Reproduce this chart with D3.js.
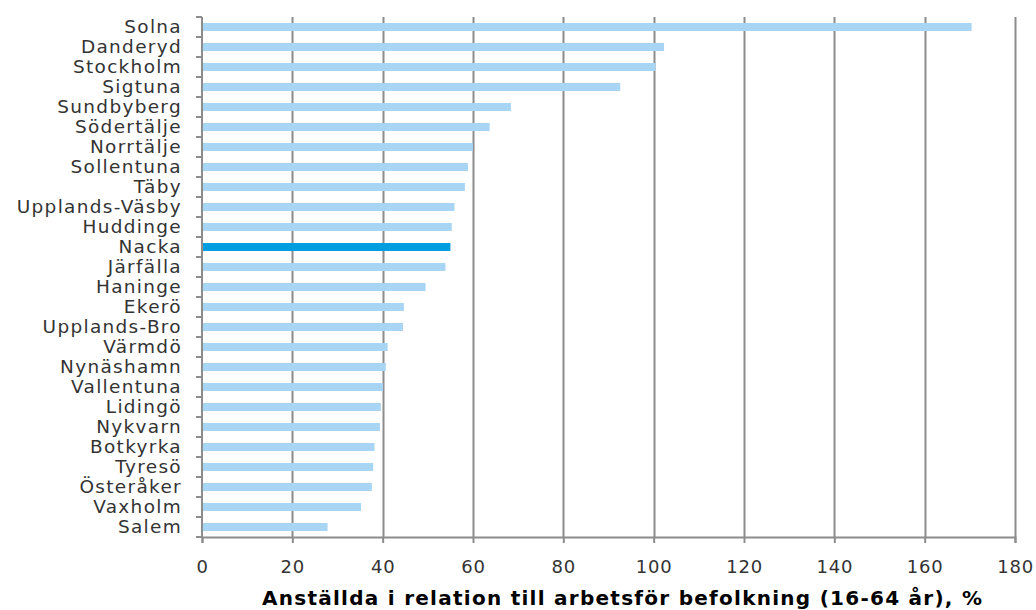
<!DOCTYPE html>
<html><head><meta charset="utf-8">
<script src="https://cdn.jsdelivr.net/npm/d3@7"></script>
<style>body{margin:0;background:#fff}svg{display:block}</style>
</head><body>
<script>
const categories = ["Solna","Danderyd","Stockholm","Sigtuna","Sundbyberg","Södertälje","Norrtälje","Sollentuna","Täby","Upplands-Väsby","Huddinge","Nacka","Järfälla","Haninge","Ekerö","Upplands-Bro","Värmdö","Nynäshamn","Vallentuna","Lidingö","Nykvarn","Botkyrka","Tyresö","Österåker","Vaxholm","Salem"];
const values = [170.4,102.3,100.4,92.6,68.4,63.7,60.0,58.9,58.2,55.9,55.3,55.0,53.9,49.5,44.7,44.5,41.1,40.7,40.1,39.6,39.4,38.2,37.9,37.6,35.2,27.8];
const highlight = "Nacka";
const xTicks = [0,20,40,60,80,100,120,140,160,180];
const xTitle = "Anställda i relation till arbetsför befolkning (16-64 år), %";

const W=1036,H=610;
const m={left:202,right:21,top:17,bottom:73};
const svg=d3.select("body").append("svg").attr("width",W).attr("height",H);
const x=d3.scaleLinear().domain([0,180]).range([m.left,W-m.right]);
const yOuter=d3.scaleBand().domain(categories).range([m.top,H-m.bottom]);
const grid="#8c8c8c";
const lightFont="'DejaVu Sans', sans-serif";

// gridlines
svg.append("g").selectAll("line").data(xTicks.slice(1)).join("line")
 .attr("x1",d=>Math.round(x(d))+0.5).attr("x2",d=>Math.round(x(d))+0.5)
 .attr("y1",m.top).attr("y2",H-m.bottom).attr("stroke",grid).attr("stroke-width",2);

// bars
svg.append("g").selectAll("rect").data(categories).join("rect")
 .attr("x",x(0)).attr("y",(d)=>yOuter(d)+6)
 .attr("width",(d,i)=>x(values[i])-x(0)).attr("height",8)
 .attr("fill",d=>d===highlight?"#009ee0":"#a9d5f4");

// x axis
const xa=svg.append("g").attr("transform",`translate(0,${H-m.bottom})`)
 .call(d3.axisBottom(x).tickValues(xTicks).tickSize(6).tickPadding(17).tickFormat(d3.format("d")));
xa.select(".domain").attr("stroke",grid).attr("stroke-width",2);
xa.selectAll(".tick line").attr("stroke",grid).attr("stroke-width",2);
xa.selectAll("text").attr("font-family",lightFont).attr("font-size",18).attr("fill","#333").attr("letter-spacing",0.8);

// y axis
const ya=svg.append("g").attr("transform",`translate(${m.left},0)`);
ya.append("line").attr("x1",0).attr("x2",0).attr("y1",m.top).attr("y2",H-m.bottom).attr("stroke",grid).attr("stroke-width",2);
const bounds=categories.map(c=>yOuter(c)).concat([H-m.bottom]);
ya.selectAll("line.t").data(bounds).join("line").attr("class","t")
 .attr("x1",-6).attr("x2",0).attr("y1",d=>d).attr("y2",d=>d).attr("stroke",grid).attr("stroke-width",2);
ya.selectAll("text").data(categories).join("text")
 .attr("transform",d=>`translate(-20,${yOuter(d)+yOuter.bandwidth()/2}) scale(1.1,1)`)
 .attr("x",0).attr("y",0).attr("dy","0.37em")
 .attr("text-anchor","end").attr("font-family",lightFont).attr("font-size",16.8).attr("fill","#333").attr("letter-spacing",1.2)
 .text(d=>d);

svg.append("text").attr("x",262).attr("y",605).attr("text-anchor","start")
 .attr("font-family","'DejaVu Sans', Verdana, sans-serif").attr("font-weight","bold").attr("font-size",20).attr("fill","#000")
 .attr("textLength",720).attr("lengthAdjust","spacing")
 .text(xTitle);
</script>
</body></html>
